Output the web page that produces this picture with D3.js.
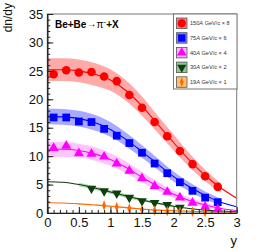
<!DOCTYPE html>
<html>
<head>
<meta charset="utf-8">
<script src="https://cdn.jsdelivr.net/npm/d3@7"></script>
<style>
  body { margin: 0; background: #fff; }
  text { font-family: "Liberation Sans", Arial, sans-serif; }
</style>
</head>
<body>
<div id="chart"></div>
<script>
// measured points (rapidity bins)
var xPts = [0.1, 0.3, 0.5, 0.7, 0.9, 1.1, 1.3, 1.5, 1.7, 1.9, 2.1, 2.3, 2.5, 2.7];
var red150 = [24.4, 25.1, 24.7, 24.8, 24.0, 23.2, 20.75, 18.5, 16.0, 13.5, 10.9, 8.6, 6.45, 4.6];
var blue75 = [16.8, 16.8, 16.1, 16.0, 14.8, 13.6, 12.3, 10.6, 8.7, 7.0, 5.4, 3.9, 2.7, 1.9];
var mag40 = [11.4, 11.8, 10.5, 10.4, 9.9, 8.7, 7.4, 6.1, 4.75, 3.7, 2.7, 1.8, 1.1, 0.65];
var xGreen = [0.7, 0.9, 1.1, 1.3, 1.5, 1.7, 1.9, 2.1];
var green30 = [4.3, 3.85, 3.45, 2.7, 2.1, 1.8, 1.45, 0.95];
var xOrange = [0.9, 1.1, 1.3, 1.5, 1.7, 1.9, 2.1, 2.3, 2.5];
var orange19 = [1.3, 1.05, 0.8, 0.55, 0.45, 0.35, 0.3, 0.2, 0.15];

// fit curves, every 0.25
var xFit = [0, 0.25, 0.5, 0.75, 1.0, 1.25, 1.5, 1.75, 2.0, 2.25, 2.5, 2.75, 3.0];
var fitRed = [25.2, 25.2, 25.0, 24.4, 23.4, 21.5, 18.8, 15.6, 12.4, 9.3, 6.6, 4.4, 2.6];
var fitBlue = [17.0, 16.9, 16.6, 15.9, 14.7, 12.9, 10.8, 8.6, 6.4, 4.6, 3.1, 1.9, 1.1];
var fitMag = [11.2, 11.2, 11.0, 10.4, 9.4, 8.0, 6.3, 4.7, 3.3, 2.2, 1.4, 0.8, 0.45];
var fitGreen = [5.5, 5.4, 5.0, 4.4, 3.7, 3.0, 2.3, 1.7, 1.2, 0.8, 0.5, 0.35, 0.2];
var fitOrange = [1.8, 1.75, 1.6, 1.4, 1.2, 0.95, 0.7, 0.5, 0.4, 0.3, 0.2, 0.15, 0.1];

// systematic band half widths (null = no band)
var bandRed = [2.0, 2.0, 2.0, 2.0, 1.9, 1.8, 1.7, 1.5, 1.4, 1.2, 1.0, 0.8, null];
var bandBlue = [1.4, 1.4, 1.4, 1.4, 1.3, 1.2, 1.1, 1.0, 0.9, 0.8, 0.7, 0.6, null];
var bandMag = [1.3, 1.3, 1.2, 1.2, 1.1, 1.0, 0.9, 0.8, 0.6, 0.5, 0.4, 0.3, null];
var bandGreen = [null, null, 0.3, 0.3, 0.3, 0.3, 0.25, 0.2, 0.2, null, null, null, null];
var bandOrange = [null, null, null, 0.12, 0.12, 0.1, 0.1, 0.1, 0.08, 0.08, 0.06, null, null];

var legendLabels = ["150", "75", "40", "30", "19"];
var legendScale = ["8", "6", "4", "2", "1"];

var yTicks = [0, 5, 10, 15, 20, 25, 30, 35];
var xTicks = [0, 0.5, 1, 1.5, 2, 2.5, 3];

var W = 269, H = 252;
var svg = d3.select("#chart").append("svg")
    .attr("width", W)
    .attr("height", H);

var x = d3.scaleLinear().domain([0, 3]).range([47.3, 236.7]);
var y = d3.scaleLinear().domain([0, 35]).range([213, 14]);

var series = [
    {xs: xPts, ys: red150, fit: fitRed, band: bandRed, col: "#ff0000", bandCol: "#ff9a9a", boxCol: "#ff8080", shape: d3.symbolCircle, size: 58},
    {xs: xPts, ys: blue75, fit: fitBlue, band: bandBlue, col: "#0000ff", bandCol: "#9a9aff", boxCol: "#8080ff", shape: d3.symbolSquare, size: 60},
    {xs: xPts, ys: mag40, fit: fitMag, band: bandMag, col: "#ff00ff", bandCol: "#ffb8ff", boxCol: "#ffb0ff", shape: d3.symbolTriangle, size: 44},
    {xs: xGreen, ys: green30, fit: fitGreen, band: bandGreen, col: "#0f3f0f", bandCol: "#9fd09f", boxCol: "#90c890", shape: d3.symbolTriangle, size: 40, flip: true},
    {xs: xOrange, ys: orange19, fit: fitOrange, band: bandOrange, col: "#ff6a00", bandCol: "#ffc890", boxCol: "#ffc070", shape: d3.symbolDiamond, size: 22}
];

svg.append("clipPath").attr("id", "frame")
    .append("rect").attr("x", 47.3).attr("y", 14).attr("width", 189.4).attr("height", 199);

var plot = svg.append("g").attr("clip-path", "url(#frame)");

// bands
series.forEach(function (s) {
    var pts = xFit.map(function (v, i) { return {x: v, y: s.fit[i], h: s.band[i]}; });
    var area = d3.area()
        .defined(function (d) { return d.h != null; })
        .x(function (d) { return x(d.x); })
        .y0(function (d) { return y(d.y - d.h); })
        .y1(function (d) { return y(d.y + d.h); })
        .curve(d3.curveMonotoneX);
    plot.append("path").datum(pts)
        .attr("d", area)
        .attr("fill", s.bandCol)
        .attr("opacity", 0.85);
});

// fit lines
series.forEach(function (s) {
    var pts = xFit.map(function (v, i) { return {x: v, y: s.fit[i]}; });
    var line = d3.line()
        .x(function (d) { return x(d.x); })
        .y(function (d) { return y(d.y); })
        .curve(d3.curveMonotoneX);
    plot.append("path").datum(pts)
        .attr("d", line)
        .attr("fill", "none")
        .attr("stroke", s.col)
        .attr("stroke-width", 1.1);
});

// markers
series.forEach(function (s) {
    var sym = d3.symbol().type(s.shape).size(s.size);
    svg.append("g").selectAll("path")
        .data(s.xs.map(function (v, i) { return [v, s.ys[i]]; }))
        .enter()
        .append("path")
        .attr("d", sym)
        .attr("transform", function (d) {
            return "translate(" + x(d[0]) + "," + y(d[1]) + ")" + (s.flip ? " rotate(180)" : "") + (s.shape === d3.symbolDiamond ? " scale(0.8,1.2)" : "");
        })
        .attr("fill", s.col);
});

// frame
svg.append("rect")
    .attr("x", 47.3).attr("y", 14).attr("width", 189.4).attr("height", 199)
    .attr("fill", "none").attr("stroke", "#777").attr("stroke-width", 1);

// axes, ticks inward like ROOT
svg.append("g").attr("transform", "translate(47.3,0)")
    .call(d3.axisLeft(y).tickValues(yTicks).tickSizeInner(-6).tickSizeOuter(0).tickPadding(4));
svg.append("g").attr("transform", "translate(47.3,0)")
    .call(d3.axisLeft(y).tickValues(d3.range(0, 36, 1)).tickSizeInner(-3).tickSizeOuter(0).tickFormat(""));
svg.append("g").attr("transform", "translate(0,213)")
    .call(d3.axisBottom(x).tickValues(xTicks).tickSizeInner(-6).tickSizeOuter(0).tickPadding(5).tickFormat(d3.format("")));
svg.append("g").attr("transform", "translate(0,213)")
    .call(d3.axisBottom(x).tickValues(d3.range(0, 3.01, 0.1)).tickSizeInner(-3).tickSizeOuter(0).tickFormat(""));

svg.selectAll(".domain").attr("stroke", "#222");
svg.selectAll(".tick line").attr("stroke", "#222");
svg.selectAll(".tick text")
    .attr("font-family", "Liberation Sans, Arial, sans-serif")
    .attr("font-size", 13)
    .attr("fill", "#111");

// axis titles
svg.append("text")
    .attr("transform", "translate(12,3) rotate(-90)")
    .attr("text-anchor", "end")
    .attr("font-size", 12)
    .attr("fill", "#111")
    .text("dn/dy");
svg.append("text")
    .attr("x", 237).attr("y", 245)
    .attr("text-anchor", "end")
    .attr("font-size", 13)
    .attr("fill", "#111")
    .text("y");

// title
var title = svg.append("text")
    .attr("x", 55).attr("y", 27.5)
    .attr("font-size", 10)
    .attr("font-weight", "bold")
    .attr("fill", "#000");
title.append("tspan").text("Be+Be");
title.append("tspan").attr("font-weight", "normal").attr("font-size", 10).attr("dy", -0.5).text("\u2192");
title.append("tspan").attr("font-weight", "normal").attr("dy", 0.5).text("\u03c0");
title.append("tspan").attr("font-size", 5).attr("dy", -4).text("\u2212");
title.append("tspan").attr("dy", 4).text("+X");

// legend
var lg = svg.append("g");
lg.append("rect")
    .attr("x", 173.5).attr("y", 14).attr("width", 63.5).attr("height", 75)
    .attr("fill", "#fff").attr("stroke", "#777").attr("stroke-width", 1);
series.forEach(function (s, i) {
    var cy = 23.3 + i * 14.7;
    lg.append("rect")
        .attr("x", 176.5).attr("y", cy - 5.3).attr("width", 10.5).attr("height", 10.5)
        .attr("fill", s.boxCol).attr("stroke", "#555").attr("stroke-width", 0.8);
    var sym = d3.symbol().type(s.shape).size(s.size * 0.9);
    lg.append("path")
        .attr("d", sym)
        .attr("transform", "translate(181.75," + cy + ")" + (s.flip ? " rotate(180)" : "") + (s.shape === d3.symbolDiamond ? " scale(0.8,1.2)" : ""))
        .attr("fill", s.col);
    var t = lg.append("text")
        .attr("x", 190).attr("y", cy + 2)
        .attr("font-size", 5.6)
        .attr("fill", "#333");
    t.append("tspan").text(legendLabels[i]);
    t.append("tspan").attr("font-style", "italic").text("A");
    t.append("tspan").text(" GeV/c \u00d7 " + legendScale[i]);
});
</script>
</body>
</html>
